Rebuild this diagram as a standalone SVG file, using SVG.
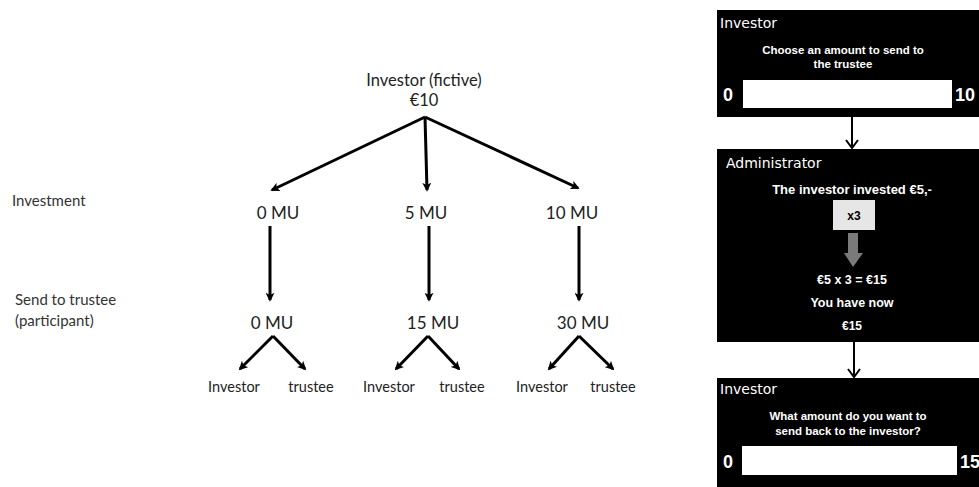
<svg xmlns="http://www.w3.org/2000/svg" width="979" height="487" viewBox="0 0 979 487">
<style>
.lbl{font-family:Lato,"Liberation Sans",sans-serif;fill:#222}
.mu{font-size:17px;text-anchor:middle}
.leaf{font-size:14.5px;text-anchor:middle}
.side{font-size:15px;fill:#333}
.title{font-family:"DejaVu Sans","Liberation Sans",sans-serif;font-size:14px;fill:#fff}
.pt{font-family:"Liberation Sans",Arial,sans-serif;font-weight:bold;fill:#fff;text-anchor:middle}
.num{font-family:"Liberation Sans",Arial,sans-serif;font-weight:bold;fill:#fff;font-size:18px}
.tree{stroke:#000;stroke-width:3;fill:none;marker-end:url(#ah)}
.pa{stroke:#000;stroke-width:2;fill:none}
</style>
<defs>
<marker id="ah" viewBox="0 0 10 10" refX="8" refY="5" markerWidth="3" markerHeight="3" orient="auto" markerUnits="strokeWidth">
<path d="M0,0 L10,5 L0,10 L2.5,5 Z" fill="#000"/>
</marker>
</defs>
<rect width="979" height="487" fill="#fff"/>

<g id="root">
<text class="lbl" x="424" y="86" font-size="16.5" text-anchor="middle">Investor (fictive)</text>
<text class="lbl" x="424" y="106" font-size="16.5" text-anchor="middle">€10</text>
</g>
<g id="row-labels">
<text class="lbl side" x="12" y="206">Investment</text>
<text class="lbl side" x="15" y="305">Send to trustee</text>
<text class="lbl side" x="15" y="326">(participant)</text>
</g>
<g id="inv0"><text class="lbl mu" x="278" y="219">0 MU</text></g>
<g id="inv5"><text class="lbl mu" x="426" y="219">5 MU</text></g>
<g id="inv10"><text class="lbl mu" x="572" y="219">10 MU</text></g>
<g id="send0"><text class="lbl mu" x="272" y="329">0 MU</text></g>
<g id="send15"><text class="lbl mu" x="433" y="329">15 MU</text></g>
<g id="send30"><text class="lbl mu" x="583" y="329">30 MU</text></g>
<g id="leaves">
<text class="lbl leaf" x="234" y="392">Investor</text>
<text class="lbl leaf" x="311" y="392">trustee</text>
<text class="lbl leaf" x="389" y="392">Investor</text>
<text class="lbl leaf" x="462" y="392">trustee</text>
<text class="lbl leaf" x="542" y="392">Investor</text>
<text class="lbl leaf" x="613" y="392">trustee</text>
</g>

<g id="connectors">
<line class="tree" x1="425" y1="117" x2="272" y2="190"/>
<line class="tree" x1="425" y1="117" x2="427" y2="190"/>
<line class="tree" x1="425" y1="117" x2="578" y2="188"/>
<line class="tree" x1="270" y1="226" x2="270" y2="300"/>
<line class="tree" x1="429" y1="226" x2="429" y2="300"/>
<line class="tree" x1="579" y1="226" x2="579" y2="300"/>
<polyline class="tree" points="273,336 240,369" />
<polyline class="tree" points="273,336 305,369" />
<polyline class="tree" points="428,336 396,369" />
<polyline class="tree" points="428,336 459,369" />
<polyline class="tree" points="579,336 549,369" />
<polyline class="tree" points="579,336 613,369" />
<line class="pa" x1="852" y1="117" x2="852" y2="148"/>
<polyline class="pa" points="846,140 852,148 858,140"/>
<line class="pa" x1="854" y1="342" x2="854" y2="377"/>
<polyline class="pa" points="848,369 854,377 860,369"/>
</g>

<g id="panel1">
<rect x="717" y="10" width="262" height="107" fill="#000"/>
<text class="title" x="720" y="28">Investor</text>
<text class="pt" x="843" y="54" font-size="11.5">Choose an amount to send to</text>
<text class="pt" x="843" y="68" font-size="11.5">the trustee</text>
<rect x="743" y="80" width="209" height="28" fill="#fff"/>
<text class="num" x="723" y="101">0</text>
<text class="num" x="955" y="101">10</text>
</g>

<g id="panel2">
<rect x="717" y="149" width="262" height="193" fill="#000"/>
<text class="title" x="726" y="168">Administrator</text>
<text class="pt" x="852" y="194" font-size="13">The investor invested €5,-</text>
<rect x="833" y="200" width="42" height="30" fill="#e6e6e6"/>
<text class="pt" x="854" y="220" font-size="12" style="fill:#000">x3</text>
<path d="M848,233 H858 V253 H863 L853,267 L844,253 H848 Z" fill="#7a7a7a"/>
<text class="pt" x="852" y="284" font-size="12.5">€5 x 3 = €15</text>
<text class="pt" x="852" y="307" font-size="12.5">You have now</text>
<text class="pt" x="852" y="330" font-size="12">€15</text>
</g>

<g id="panel3">
<rect x="717" y="378" width="262" height="109" fill="#000"/>
<text class="title" x="720" y="394">Investor</text>
<text class="pt" x="848" y="420" font-size="11.5">What amount do you want to</text>
<text class="pt" x="848" y="435" font-size="11.5">send back to the investor?</text>
<rect x="742" y="446" width="215" height="29" fill="#fff"/>
<text class="num" x="723" y="468">0</text>
<text class="num" x="960" y="468">15</text>
</g>
</svg>
